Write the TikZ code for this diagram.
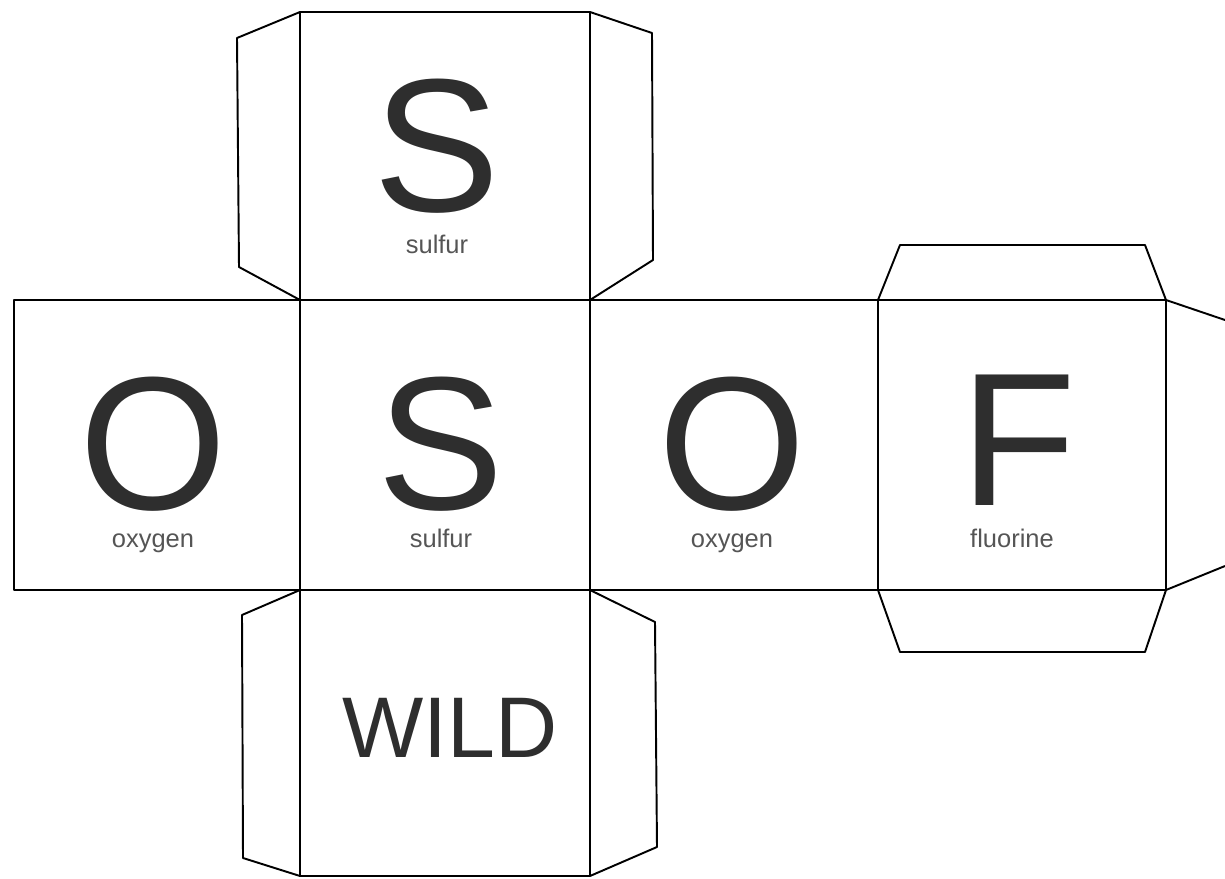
\documentclass[tikz,border=0pt]{standalone}
\usepackage{fontspec}
\setmainfont{Liberation Sans}
\usepackage{tikz}
\usetikzlibrary{positioning}

\definecolor{ink}{HTML}{2E2E2E}
\definecolor{labelgray}{HTML}{555555}

\tikzset{
  cut/.style={line width=1.1pt,line join=round},
  bigletter/.style={anchor=base,inner sep=0pt,text depth=0pt,text=ink,font=\fontsize{108}{110}\selectfont},
  wildtext/.style={anchor=base,inner sep=0pt,text=ink,font=\fontsize{49}{50}\selectfont},
  elemname/.style={anchor=base,inner sep=0pt,text height=1.5ex,text=labelgray,font=\fontsize{14.5}{16}\selectfont}
}

\begin{document}
\begin{tikzpicture}[x=0.02cm,y=-0.02cm]

\useasboundingbox (0,0) rectangle (1225,879);

% middle strip
\draw[cut] (14,300) rectangle (1166,590);
\draw[cut] (300,300)--(300,590);
\draw[cut] (590,300)--(590,590);
\draw[cut] (878,300)--(878,590);

% top face and its tabs
\draw[cut] (300,300)--(300,12)--(590,12)--(590,300);
\draw[cut] (300,12)--(237,38)--(239,267)--(300,300);
\draw[cut] (590,12)--(652,33)--(653,260)--(590,300);

% bottom face and its tabs
\draw[cut] (300,590)--(300,876)--(590,876)--(590,590);
\draw[cut] (300,590)--(242,615)--(243,858)--(300,876);
\draw[cut] (590,590)--(655,622)--(657,847)--(590,876);

% tabs of the F face
\draw[cut] (878,300)--(900,245)--(1145,245)--(1166,300);
\draw[cut] (878,590)--(900,652)--(1145,652)--(1166,590);
\draw[cut] (1166,300)--(1225,320);
\draw[cut] (1166,590)--(1225,566);

% letters
\node[bigletter] (S1) at (437,211) {S};
\node[elemname] (s1) at (437,253) {sulfur};

\node[bigletter] (O1) at (153,509) {O};
\node[elemname] (o1) at (153,547) {oxygen};

\node[bigletter] (S2) at (441,509) {S};
\node[elemname] (s2) at (441,547) {sulfur};

\node[bigletter] (O2) at (732,509) {O};
\node[elemname] (o2) at (732,547) {oxygen};

\node[bigletter] (F) at (1018,505) {F};
\node[elemname] (f) at (1012,547) {fluorine};

\node[wildtext] (W) at (450,757) {WILD};

\end{tikzpicture}
\end{document}
